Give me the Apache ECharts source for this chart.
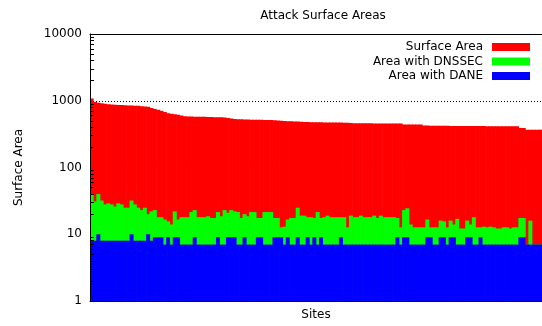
<!DOCTYPE html>
<html>
<head>
<meta charset="utf-8">
<script src="https://cdn.jsdelivr.net/npm/echarts@6/dist/echarts.min.js"></script>
<style>
html,body{margin:0;padding:0;background:#fff;}
#chart{width:542px;height:326px;}
</style>
</head>
<body>
<div id="chart"></div>
<script>
// Surface area per site (sorted descending)
var surfaceArea = [
  1080, 960, 935, 915, 900, 890, 880, 870, 865, 860,
  855, 850, 848, 845, 840, 830, 820, 810, 780, 750,
  730, 710, 680, 650, 640, 630, 618, 600, 585, 582,
  580, 578, 577, 576, 575, 572, 570, 568, 566, 564,
  562, 550, 540, 533, 530, 527, 525, 522, 520, 520,
  518, 517, 516, 515, 515, 510, 505, 503, 498, 495,
  492, 490, 488, 485, 482, 480, 478, 476, 475, 475,
  474, 474, 473, 472, 472, 471, 470, 468, 466, 462,
  461, 460, 460, 459, 459, 458, 458, 458, 457, 457,
  457, 456, 456, 456, 440, 440, 440, 440, 440, 440,
  424, 424, 423, 423, 422, 422, 421, 421, 420, 420,
  420, 419, 419, 418, 418, 418, 417, 417, 417, 416,
  416, 416, 415, 415, 415, 414, 414, 414, 414, 391,
  391, 369, 369, 369, 369, 369
];
// Area covered by DNSSEC
var dnssecArea = [
  39, 31, 40, 32, 28, 29, 28, 26, 29, 28,
  25, 25, 32, 28, 25, 23, 25, 20, 22, 23,
  18, 18, 16.6, 15.6, 14, 22, 16.6, 18, 18, 18,
  21.5, 23, 18, 18, 18, 18.6, 17.5, 17.5, 21.5, 18.6,
  23, 21, 23, 22, 21.5, 17.5, 20, 18.6, 21.5, 21.5,
  17.5, 17.5, 21.5, 21.5, 21.5, 17.5, 17.5, 12.7, 13, 16.6,
  17.5, 17.5, 25, 19, 19, 18, 18, 17.5, 21.5, 17.5,
  18, 19, 18, 18, 18, 18, 18, 12.7, 19, 18,
  18, 19, 18, 18, 18, 19, 17.5, 19, 18, 18,
  18, 18, 17.5, 12.7, 23, 24.5, 14, 12.7, 12.7, 12.7,
  12.7, 16.6, 12.7, 12.7, 12.7, 16, 15.6, 12.7, 16, 14,
  17, 12.2, 12.2, 16, 14, 18, 12.7, 12.7, 13, 12.7,
  13, 12.7, 12.2, 12.2, 12.7, 12.7, 12.2, 12.7, 12.7, 17.5,
  17.5, 7, 16, 7, 7, 7
];
// Area covered by DANE
var daneArea = [
  8, 8, 10, 8, 8, 8, 8, 8, 8, 8,
  8, 8, 10, 8, 8, 8, 8, 10, 8, 9,
  9, 9, 7, 9, 7, 9, 9, 7, 7, 7,
  7, 9, 7, 7, 7, 7, 7, 7, 9, 7,
  7, 9, 9, 9, 7, 7, 9, 7, 7, 7,
  9, 9, 7, 7, 7, 9, 9, 9, 7, 9,
  7, 7, 9, 7, 7, 9, 7, 9, 7, 9,
  7, 7, 7, 7, 7, 9, 7, 7, 7, 7,
  7, 7, 7, 7, 7, 7, 7, 7, 7, 7,
  7, 7, 9, 7, 9, 9, 7, 7, 7, 7,
  7, 9, 9, 7, 7, 9, 9, 7, 9, 9,
  7, 7, 7, 9, 9, 7, 7, 9, 7, 7,
  7, 7, 7, 7, 7, 7, 7, 7, 7, 9,
  9, 7, 7, 7, 7, 7
];
var sites = surfaceArea.map(function (v, i) { return String(i + 1); });
var minorTicks = [
  2, 3, 4, 5, 6, 7, 8, 9,
  20, 30, 40, 50, 60, 70, 80, 90,
  200, 300, 400, 500, 600, 700, 800, 900,
  2000, 3000, 4000, 5000, 6000, 7000, 8000, 9000
];
var seriesNames = ['Surface Area', 'Area with DNSSEC', 'Area with DANE'];
var seriesColors = ['#ff0000', '#00ff00', '#0000ff'];
var seriesData = [surfaceArea, dnssecArea, daneArea];

var FONT = 'DejaVu Sans';
var chart = echarts.init(document.getElementById('chart'), null, {renderer: 'canvas'});
chart.setOption({
  animation: false,
  backgroundColor: '#ffffff',
  title: {
    text: 'Attack Surface Areas',
    left: 318, top: 5, textAlign: 'center',
    textStyle: {fontFamily: FONT, fontSize: 12, fontWeight: 'normal', color: '#000'}
  },
  legend: {
    orient: 'vertical', right: 7, top: 35, align: 'right',
    icon: 'rect', itemWidth: 38, itemHeight: 8, itemGap: 0.5,
    textStyle: {fontFamily: FONT, fontSize: 12, color: '#000', lineHeight: 14, padding: [0, 4, 0, 0]},
    data: seriesNames
  },
  grid: {left: 90, right: 0, top: 34, bottom: 24},
  xAxis: [{
    type: 'category', data: sites, boundaryGap: true, z: 3,
    axisLine: {show: true, lineStyle: {color: '#000', width: 1}},
    axisTick: {show: false}, axisLabel: {show: false}, splitLine: {show: false},
    name: 'Sites', nameLocation: 'middle', nameGap: 8,
    nameTextStyle: {fontFamily: FONT, fontSize: 12, color: '#000'}
  }, {
    type: 'category', data: sites, boundaryGap: true, position: 'top', z: 3,
    axisLine: {show: true, lineStyle: {color: '#000', width: 1}},
    axisTick: {show: false}, axisLabel: {show: false}, splitLine: {show: false}
  }],
  yAxis: [{
    type: 'log', logBase: 10, min: 1, max: 10000, z: 0,
    axisLine: {show: false}, axisTick: {show: false}, axisLabel: {show: false},
    splitLine: {show: true, lineStyle: {color: '#000', width: 1, type: [1, 2]}}
  }, {
    type: 'log', logBase: 10, min: 1, max: 10000, position: 'left', z: 3,
    axisLine: {show: true, lineStyle: {color: '#000', width: 1}},
    axisTick: {show: true, inside: true, length: 4, customValues: minorTicks, lineStyle: {color: '#000'}},
    axisLabel: {show: true, margin: 8, fontFamily: FONT, fontSize: 12, color: '#000',
      formatter: function (v) { return String(Math.round(v)); }},
    splitLine: {show: false},
    name: 'Surface Area', nameLocation: 'middle', nameGap: 65,
    nameTextStyle: {fontFamily: FONT, fontSize: 12, color: '#000'}
  }],
  series: seriesNames.map(function (name, k) {
    return {
      type: 'bar', name: name, data: seriesData[k], xAxisIndex: 0, yAxisIndex: 0,
      barWidth: 4, barGap: '-100%', silent: true,
      itemStyle: {color: seriesColors[k]}
    };
  })
});
</script>
</body>
</html>
